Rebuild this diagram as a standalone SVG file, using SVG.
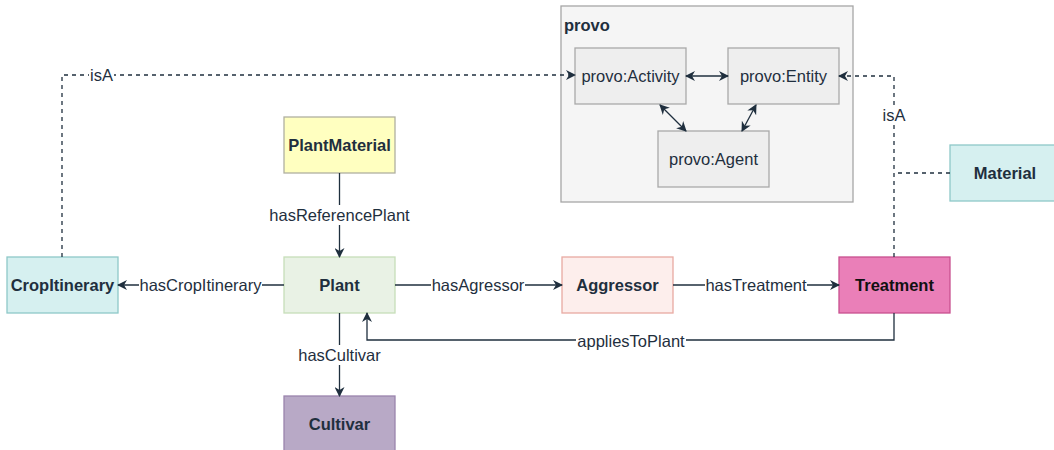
<svg xmlns="http://www.w3.org/2000/svg" width="1054" height="450" viewBox="0 0 1054 450">
<defs>
<marker id="arr" viewBox="0 0 10 10" refX="9" refY="5" markerWidth="10" markerHeight="10" markerUnits="userSpaceOnUse" orient="auto-start-reverse">
<path d="M0,0 L10,5 L0,10 L3,5 Z" fill="#1f2f3e"/>
</marker>
</defs>
<style>
text{font-family:"Liberation Sans",Arial,sans-serif;font-size:16.5px;fill:#1f2f3e}
.b{font-weight:bold}
.n{text-anchor:middle;dominant-baseline:central}
.e{fill:none;stroke:#1f2f3e;stroke-width:1.3}
.d{stroke-dasharray:4 4}
.lbl{text-anchor:middle;dominant-baseline:central}
.bg{fill:#ffffff}
.pn{fill:#eeeeee;stroke:#a9a9a9;stroke-width:1.3}
</style>
<rect width="1054" height="450" fill="#ffffff"/>
<g id="provo">
<rect x="561" y="6" width="292" height="196" fill="#f5f5f5" stroke="#a6a6a6" stroke-width="1.3"/>
<text x="564" y="31" class="b">provo</text>
</g>
<g id="provo-activity"><rect x="575" y="48" width="111" height="56" class="pn"/><text x="630.5" y="76" class="n">provo:Activity</text></g>
<g id="provo-entity"><rect x="728" y="48" width="111" height="56" class="pn"/><text x="783.5" y="76" class="n">provo:Entity</text></g>
<g id="provo-agent"><rect x="658" y="131" width="111" height="56" class="pn"/><text x="713.5" y="159" class="n">provo:Agent</text></g>
<g id="plantmaterial"><rect x="284" y="117" width="111" height="56" fill="#ffffc0" stroke="#b0b0a0" stroke-width="1.3"/><text x="339.5" y="145" class="n b">PlantMaterial</text></g>
<g id="plant"><rect x="284" y="257" width="111" height="56" fill="#e9f2e5" stroke="#c7deb9" stroke-width="1.3"/><text x="339.5" y="285" class="n b">Plant</text></g>
<g id="cropitinerary"><rect x="7" y="257" width="111" height="56" fill="#d6f0f0" stroke="#8ec8c8" stroke-width="1.3"/><text x="62.5" y="285" class="n b">CropItinerary</text></g>
<g id="aggressor"><rect x="562" y="257" width="111" height="56" fill="#fdeeec" stroke="#e9aaa2" stroke-width="1.3"/><text x="617.5" y="285" class="n b">Aggressor</text></g>
<g id="treatment"><rect x="839" y="257" width="111" height="56" fill="#ea7fb8" stroke="#c8508f" stroke-width="1.3"/><text x="894.5" y="285" class="n b" style="fill:#111">Treatment</text></g>
<g id="material"><rect x="950" y="145" width="111" height="56" fill="#d6f0f0" stroke="#8ec8c8" stroke-width="1.3"/><text x="1005" y="173" class="n b">Material</text></g>
<g id="cultivar"><rect x="284" y="396" width="111" height="56" fill="#b8a9c6" stroke="#9a84ad" stroke-width="1.3"/><text x="339.5" y="424" class="n b">Cultivar</text></g>
<g id="connectors">
<path class="e" d="M686,76 L728,76" marker-start="url(#arr)" marker-end="url(#arr)"/>
<path class="e" d="M660,105 L686,131" marker-start="url(#arr)" marker-end="url(#arr)"/>
<path class="e" d="M756,105 L742,131" marker-start="url(#arr)" marker-end="url(#arr)"/>
<path class="e d" d="M62,257 L62,75 L575,75" marker-end="url(#arr)"/>
<rect x="89" y="66" width="25" height="18" class="bg"/>
<text x="101.5" y="75" class="lbl">isA</text>
<path class="e d" d="M894,257 L894,76 L839,76" marker-end="url(#arr)"/>
<path class="e d" d="M950,173 L894,173"/>
<rect x="881" y="106" width="26" height="18" class="bg"/>
<text x="894" y="115" class="lbl">isA</text>
<path class="e" d="M339.5,173 L339.5,257" marker-end="url(#arr)"/>
<rect x="267" y="205" width="145" height="20" class="bg"/>
<text x="339.5" y="215" class="lbl">hasReferencePlant</text>
<path class="e" d="M284,285 L118,285" marker-end="url(#arr)"/>
<rect x="139" y="276" width="123" height="20" class="bg"/>
<text x="200.5" y="285" class="lbl">hasCropItinerary</text>
<path class="e" d="M395,285 L562,285" marker-end="url(#arr)"/>
<rect x="431" y="276" width="94" height="20" class="bg"/>
<text x="478" y="285" class="lbl">hasAgressor</text>
<path class="e" d="M673,285 L839,285" marker-end="url(#arr)"/>
<rect x="705" y="276" width="102" height="20" class="bg"/>
<text x="756" y="285" class="lbl">hasTreatment</text>
<path class="e" d="M339.5,313 L339.5,396" marker-end="url(#arr)"/>
<rect x="297" y="345" width="85" height="20" class="bg"/>
<text x="339.5" y="355" class="lbl">hasCultivar</text>
<path class="e" d="M894,313 L894,340 L367,340 L367,313" marker-end="url(#arr)"/>
<rect x="576" y="331" width="110" height="20" class="bg"/>
<text x="631" y="341" class="lbl">appliesToPlant</text>
</g>
</svg>
